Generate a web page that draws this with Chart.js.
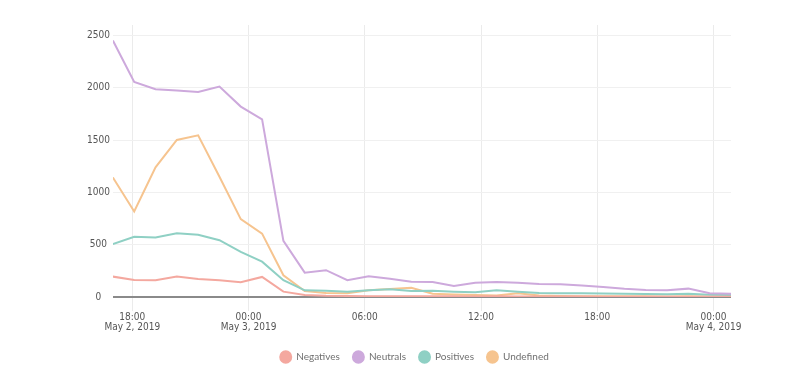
<!DOCTYPE html>
<html>
<head>
<meta charset="utf-8">
<script src="https://cdn.jsdelivr.net/npm/chart.js@4/dist/chart.umd.min.js"></script>
<style>
  html, body { margin: 0; padding: 0; background: #fff; }
  #wrap { width: 795px; height: 385px; }
</style>
</head>
<body>
<div id="wrap"><canvas id="sentimentChart" width="795" height="385"></canvas></div>
<script>
// sample times (local, roughly every 66 minutes)
const times = [
  '2019-05-02T17:00', '2019-05-02T18:06', '2019-05-02T19:12', '2019-05-02T20:18',
  '2019-05-02T21:24', '2019-05-02T22:30', '2019-05-02T23:36', '2019-05-03T00:42',
  '2019-05-03T01:48', '2019-05-03T02:54', '2019-05-03T04:00', '2019-05-03T05:06',
  '2019-05-03T06:12', '2019-05-03T07:18', '2019-05-03T08:24', '2019-05-03T09:30',
  '2019-05-03T10:36', '2019-05-03T11:42', '2019-05-03T12:48', '2019-05-03T13:54',
  '2019-05-03T15:00', '2019-05-03T16:06', '2019-05-03T17:12', '2019-05-03T18:18',
  '2019-05-03T19:24', '2019-05-03T20:30', '2019-05-03T21:36', '2019-05-03T22:42',
  '2019-05-03T23:48', '2019-05-04T00:54'
];

const negatives = [195, 163, 160, 195, 172, 160, 141, 192, 51, 20, 12, 10, 8, 8, 6, 8, 6, 5, 6, 5, 5, 4, 4, 3, 3, 3, 3, 3, 2, 2];
const neutrals = [2452, 2056, 1986, 1973, 1960, 2011, 1820, 1698, 536, 233, 256, 160, 198, 175, 145, 144, 105, 137, 144, 137, 125, 122, 110, 95, 78, 67, 64, 80, 35, 30];
const positives = [505, 575, 568, 610, 594, 543, 431, 338, 160, 64, 60, 50, 64, 74, 57, 60, 51, 45, 64, 51, 38, 36, 35, 34, 30, 28, 26, 30, 22, 20];
const undefinedVals = [1143, 817, 1239, 1501, 1545, 1150, 744, 606, 208, 57, 38, 35, 64, 77, 89, 32, 25, 20, 15, 35, 15, 10, 8, 8, 6, 6, 5, 8, 5, 5];

const seriesNames = ['Negatives', 'Neutrals', 'Positives', 'Undefined'];
const colors = ['#f4a89f', '#cda9dc', '#8fd0c4', '#f6c48f'];

// x axis: hours since May 2 18:00
const origin = '2019-05-02T18:00';
const tickHours = [0, 6, 12, 18, 24, 30];
const tickLabels = [
  ['18:00', 'May 2, 2019'],
  ['00:00', 'May 3, 2019'],
  ['06:00'],
  ['12:00'],
  ['18:00'],
  ['00:00', 'May 4, 2019']
];
const yTicks = [0, 500, 1000, 1500, 2000, 2500];

const hours = times.map(t => (Date.parse(t) - Date.parse(origin)) / 3600000);
const allSeries = [negatives, neutrals, positives, undefinedVals];

const tickFont = "'Liberation Sans Narrow', 'DejaVu Sans Condensed', sans-serif";
const ctx = document.getElementById('sentimentChart').getContext('2d');

// nudge the legend a little to the right, like the original
const legendShift = {
  id: 'legendShift',
  afterLayout: chart => {
    if (chart.legend) {
      chart.legend.left += 7;
      chart.legend.right += 7;
    }
  },
};

new Chart(ctx, {
  type: 'line',
  data: {
    datasets: allSeries.map((vals, i) => ({
      label: seriesNames[i],
      data: vals.map((v, j) => ({ x: hours[j], y: v })),
      borderColor: colors[i],
      backgroundColor: colors[i],
      borderWidth: 2,
      pointRadius: 0,
      tension: 0,
      fill: false,
    })),
  },
  plugins: [legendShift],
  options: {
    responsive: false,
    animation: false,
    layout: {
      padding: { left: 84, right: 64, top: 25, bottom: 13 },
    },
    plugins: {
      tooltip: { enabled: false },
      legend: {
        position: 'bottom',
        labels: {
          usePointStyle: true,
          pointStyle: 'circle',
          boxHeight: 8,
          pointStyleWidth: 11,
          padding: 13,
          color: '#707070',
          font: { family: 'Lato', size: 10 },
        },
      },
    },
    scales: {
      x: {
        type: 'linear',
        min: hours[0],
        max: hours[hours.length - 1],
        afterBuildTicks: scale => {
          scale.ticks = tickHours.map(v => ({ value: v }));
        },
        afterFit: scale => {
          scale.height += 5;
        },
        border: { display: false },
        grid: {
          color: '#ebebeb',
          drawTicks: true,
          tickLength: 14,
        },
        ticks: {
          autoSkip: false,
          maxRotation: 0,
          padding: 2,
          color: '#555',
          font: { family: tickFont, size: 10, lineHeight: 0.95 },
          callback: (value, index) => tickLabels[index],
        },
      },
      y: {
        min: 0,
        max: 2600,
        afterBuildTicks: scale => {
          scale.ticks = yTicks.map(v => ({ value: v }));
        },
        border: { display: false },
        grid: {
          drawTicks: false,
          color: c => (c.tick && c.tick.value === 0 ? '#8a8a8a' : '#f0f0f0'),
          lineWidth: c => (c.tick && c.tick.value === 0 ? 2 : 1),
        },
        ticks: {
          padding: 3,
          crossAlign: 'center',
          color: '#555',
          font: { family: tickFont, size: 10 },
          callback: value => String(value),
        },
      },
    },
  },
});
</script>
</body>
</html>
